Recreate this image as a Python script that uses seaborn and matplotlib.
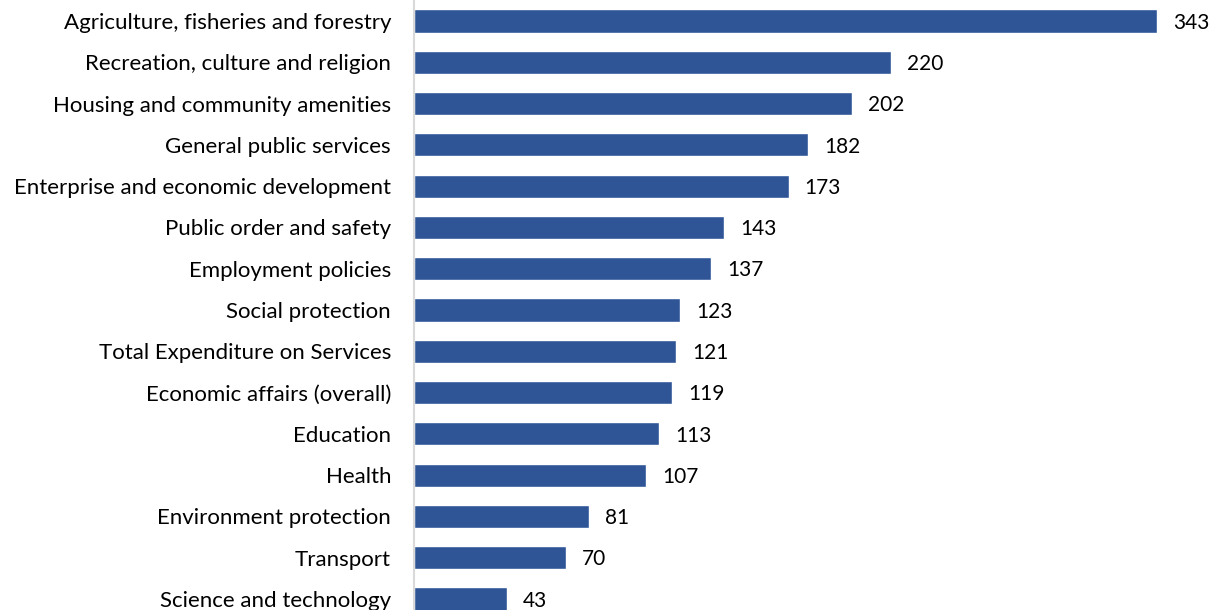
import matplotlib
matplotlib.use("Agg")
import matplotlib.pyplot as plt
import seaborn as sns
import pandas as pd

categories = [
    "Agriculture, fisheries and forestry",
    "Recreation, culture and religion",
    "Housing and community amenities",
    "General public services",
    "Enterprise and economic development",
    "Public order and safety",
    "Employment policies",
    "Social protection",
    "Total Expenditure on Services",
    "Economic affairs (overall)",
    "Education",
    "Health",
    "Environment protection",
    "Transport",
    "Science and technology",
]
values = [343, 220, 202, 182, 173, 143, 137, 123, 121, 119, 113, 107, 81, 70, 43]

df = pd.DataFrame({"category": categories, "value": values})

sns.set_theme(style="white")
plt.rcParams["font.family"] = ["Lato", "DejaVu Sans"]

W, H = 1212, 610
fig = plt.figure(figsize=(W / 100, H / 100), dpi=100)
ax = fig.add_axes([414 / W, 0, 1 - 414 / W, 1])

bar_color = "#2F5597"
sns.barplot(data=df, x="value", y="category", orient="h", color=bar_color,
            width=0.56, saturation=1, ax=ax)

ax.set_xlim(0, (W - 414) / 2.166)
ax.set_ylim(14.265, -0.509)
ax.set_xlabel("")
ax.set_ylabel("")
ax.set_xticks([])
for side in ["top", "right", "bottom"]:
    ax.spines[side].set_visible(False)
ax.spines["left"].set_color("#D9D9D9")
ax.spines["left"].set_linewidth(1.5)
ax.tick_params(axis="y", length=0, pad=16.5, labelsize=16, labelcolor="#000000")

for i, v in enumerate(values):
    ax.text(v + 7.4, i + 0.04, f"{v}", va="center", ha="left",
            fontsize=15, color="#000000")

fig.savefig("out.png", dpi=100)
